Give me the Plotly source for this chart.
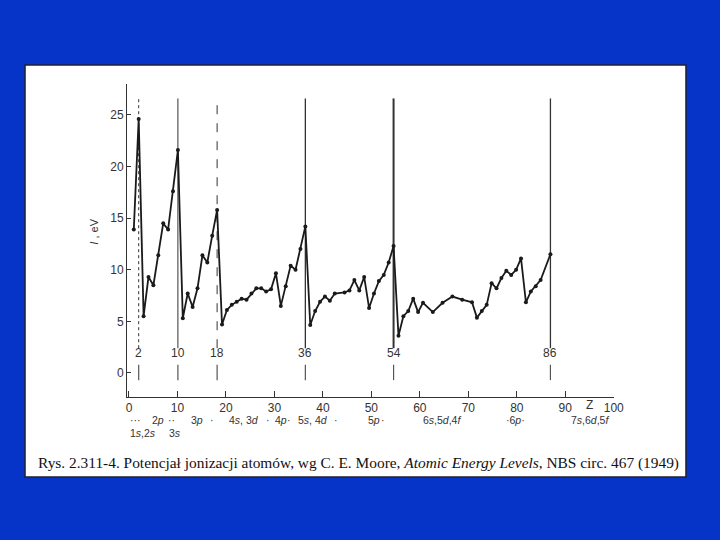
import plotly.graph_objects as go

# ---- data ----
Z = list(range(1, 87))
ion_eV = [13.9, 24.6, 5.5, 9.3, 8.5, 11.4, 14.5, 13.9, 17.6, 21.6,
          5.3, 7.7, 6.4, 8.2, 11.4, 10.7, 13.3, 15.8, 4.7, 6.1,
          6.6, 6.9, 7.2, 7.1, 7.7, 8.2, 8.2, 7.9, 8.1, 9.65,
          6.5, 8.4, 10.4, 10.0, 12.0, 14.2, 4.65, 6.0, 6.9, 7.4,
          7.0, 7.7, None, 7.8, 8.0, 9.0, 8.0, 9.3, 6.3, 7.7,
          8.9, 9.5, 10.7, 12.3, 3.6, 5.5, 6.0, 7.2, 5.9, 6.8,
          None, 5.9, None, 6.8, None, 7.4, None, 7.1, None, 6.85,
          5.36, 6.0, 6.6, 8.7, 8.2, 9.2, 9.9, 9.5, 10.0, 11.1,
          6.85, 7.9, 8.4, 9.0, None, 11.5]
noble_Z = [2, 10, 18, 36, 54, 86]
noble_labels = ["2", "10", "18", "36", "54", "86"]
noble_width = [1, 1, 1, 1.3, 2, 1.3]
noble_dash = ["dot", "solid", "dash", "solid", "solid", "solid"]
y_ticks = [0, 5, 10, 15, 20, 25]
x_ticks = [0, 10, 20, 30, 40, 50, 60, 70, 80, 90, 100]
x_ticktext = ["0", "10", "20", "30", "40", "50", "60", "70", "80", "90", "100"]
top_ticks = [10, 20, 30, 40, 50, 60, 70, 80, 90]
right_ticks = [5.72, 10.66, 15.6, 20.45, 25.7]
shell_row1 = ["···", "2<i>p</i>", "··", "3<i>p</i>", "·", "4<i>s</i>, 3<i>d</i>", "·",
              "4<i>p</i>", "·", "5<i>s</i>, 4<i>d</i>", "·", "5<i>p</i>", "·",
              "6<i>s</i>,5<i>d</i>,4<i>f</i>", "·6<i>p</i>·", "7<i>s</i>,6<i>d</i>,5<i>f</i>"]
shell_row1_pos = [1.4, 6.0, 8.8, 14.0, 17.1, 23.7, 28.6, 31.3, 33.0, 37.9, 42.8,
                  50.6, 52.3, 64.6, 79.8, 95.1]
shell_row2 = ["1<i>s</i>,2<i>s</i>", "3<i>s</i>"]
shell_row2_pos = [2.9, 9.5]

INK = "#1a1a1a"
FONT = "Liberation Sans"

fig = go.Figure()

# vertical lines at the noble gases
for z, w, d in zip(noble_Z, noble_width, noble_dash):
    fig.add_trace(go.Scatter(x=[z, z], y=[2.4, 26.6], mode="lines",
                             line=dict(color="#333333", width=w, dash=d),
                             hoverinfo="skip", showlegend=False))
    fig.add_trace(go.Scatter(x=[z, z], y=[0.8, -0.7], mode="lines",
                             line=dict(color="#555555", width=1.2),
                             hoverinfo="skip", showlegend=False))

# ionisation potential curve
fig.add_trace(go.Scatter(x=Z, y=ion_eV, mode="lines+markers", connectgaps=True,
                         line=dict(color=INK, width=1.8),
                         marker=dict(color=INK, size=4),
                         showlegend=False))

# labels under the noble-gas lines
for z, t in zip(noble_Z, noble_labels):
    fig.add_annotation(x=z, y=1.9, xref="x", yref="y", text=t, showarrow=False,
                       font=dict(family=FONT, size=12, color="#333333"))

# shell labels under the bottom axis
for t, p in zip(shell_row1, shell_row1_pos):
    fig.add_annotation(x=p, y=-0.075, xref="x2", yref="paper", text=t, showarrow=False,
                       yanchor="middle", font=dict(family=FONT, size=10.5, color="#333333"))
for t, p in zip(shell_row2, shell_row2_pos):
    fig.add_annotation(x=p, y=-0.116, xref="x2", yref="paper", text=t, showarrow=False,
                       yanchor="middle", font=dict(family=FONT, size=10.5, color="#333333"))

# Z label on bottom axis
fig.add_annotation(x=94.9, y=-0.027, xref="x2", yref="paper", text="Z", showarrow=False,
                   yanchor="middle", font=dict(family=FONT, size=12, color="#333333"))

# y-axis title
fig.add_annotation(x=-0.085, y=0.527, xref="paper", yref="paper", text="<i>I</i> , eV",
                   textangle=-90, showarrow=False,
                   font=dict(family=FONT, size=11, color="#333333"))

# caption
fig.add_annotation(x=0.476, y=-0.211, xref="paper", yref="paper",
                   text="Rys. 2.311-4. Potencjał jonizacji atomów, wg C. E. Moore, "
                        "<i>Atomic Energy Levels</i>, NBS circ. 467 (1949)",
                   showarrow=False, yanchor="middle",
                   font=dict(family="Liberation Serif", size=15.4, color="#111111"))

# white page on the blue slide
fig.add_shape(type="rect", xref="paper", yref="paper",
              x0=-0.2094, x1=1.1478, y0=-0.2556, y1=1.0607,
              fillcolor="white", line=dict(color="#202030", width=1.5), layer="below")

fig.update_layout(
    width=720, height=540,
    margin=dict(l=127, r=106, t=84, b=143),
    paper_bgcolor="#0634C8",
    plot_bgcolor="white",
    showlegend=False,
    xaxis=dict(range=[-0.385, 98.97], showline=False, showticklabels=False,
               ticks="", showgrid=False, zeroline=False),
    xaxis2=dict(overlaying="x", side="bottom", anchor="y", range=[-0.41, 100.05],
                tickvals=x_ticks, ticktext=x_ticktext, ticks="inside", ticklen=6,
                tickcolor="#333333", showline=True, linecolor="#333333", linewidth=1,
                showgrid=False, zeroline=False,
                tickfont=dict(family=FONT, size=12, color="#333333")),
    xaxis3=dict(overlaying="x", side="top", anchor="y", range=[0.205, 100.1],
                tickvals=top_ticks, ticks="inside", ticklen=8, showticklabels=False,
                tickcolor="#444444", showline=True, linecolor="#444444", linewidth=1,
                showgrid=False, zeroline=False),
    yaxis=dict(range=[-2.33, 28.0], tickvals=y_ticks, ticks="inside", ticklen=4,
               tickcolor="#333333", showline=True, linecolor="#333333", linewidth=1,
               showgrid=False, zeroline=False,
               tickfont=dict(family=FONT, size=12, color="#333333")),
    yaxis2=dict(overlaying="y", side="right", anchor="x", range=[-2.33, 28.0],
                tickvals=right_ticks, ticks="inside", ticklen=5, showticklabels=False,
                tickcolor="#222222", showline=True, linecolor="#222222", linewidth=1.5,
                showgrid=False, zeroline=False),
)

fig.write_html("out.html", config={"displayModeBar": False},
               post_script="document.body.style.margin='0';"
                           "document.body.style.background='#0634C8';")
